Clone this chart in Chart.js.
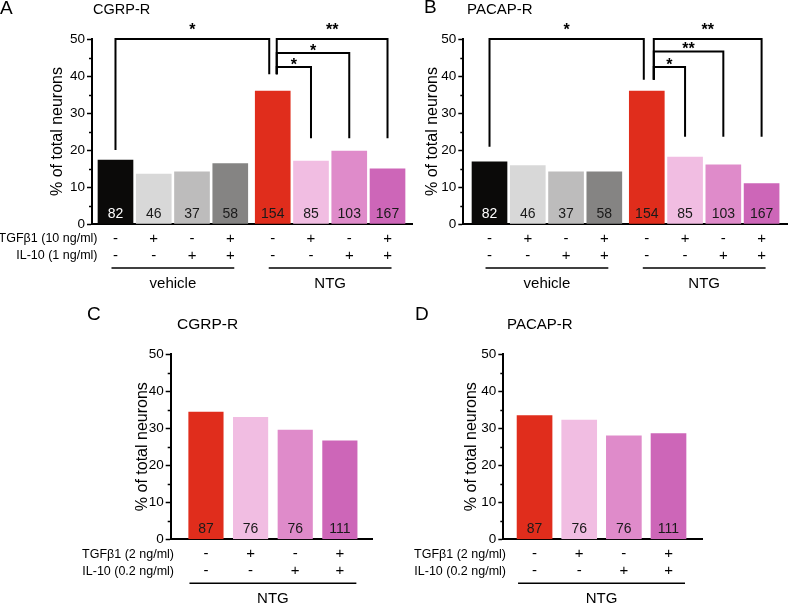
<!DOCTYPE html>
<html>
<head>
<meta charset="utf-8">
<script src="https://cdn.jsdelivr.net/npm/chart.js@4.4.1/dist/chart.umd.min.js"></script>
<style>
    body { margin: 0; background: #fff; }
    canvas { position: absolute; }
</style>
</head>
<body>
<canvas id="chartA"></canvas>
<canvas id="chartB"></canvas>
<canvas id="chartC"></canvas>
<canvas id="chartD"></canvas>
<script>
// ---- data ----
var groupsAB = ["vehicle", "vehicle", "vehicle", "vehicle", "NTG", "NTG", "NTG", "NTG"];
var groupsCD = ["NTG", "NTG", "NTG", "NTG"];

var tgfAB = ["-", "+", "-", "+", "-", "+", "-", "+"];
var il10AB = ["-", "-", "+", "+", "-", "-", "+", "+"];
var tgfCD = ["-", "+", "-", "+"];
var il10CD = ["-", "-", "+", "+"];

var rowLabelsAB = ["TGFβ1 (10 ng/ml)", "IL-10 (1 ng/ml)"];
var rowLabelsCD = ["TGFβ1 (2 ng/ml)", "IL-10 (0.2 ng/ml)"];

var valuesA = [17.3, 13.5, 14.1, 16.3, 35.9, 17.0, 19.7, 14.9];
var valuesB = [16.8, 15.8, 14.1, 14.1, 35.9, 18.1, 16.0, 10.9];
var valuesC = [34.3, 32.9, 29.5, 26.6];
var valuesD = [33.4, 32.2, 27.9, 28.5];

var countsAB = [82, 46, 37, 58, 154, 85, 103, 167];
var countsCD = [87, 76, 76, 111];

var yTicks = [0, 10, 20, 30, 40, 50];

// significance brackets: bar pairs, bracket top, leg ends, marks
var sigPairs = [[0, 4], [4, 7], [4, 6], [4, 5]];
var sigTopA = [50, 50, 46.2, 42.4];
var sigTopB = [50, 50, 46.6, 42.4];
var sigLegsA = [[20, 40.5], [40.5, 23.2], [40.5, 23.2], [40.5, 23.2]];
var sigLegsB = [[20.9, 39], [39, 23.6], [39, 23.6], [39, 23.6]];
var sigMarksA = ["*", "**", "*", "*"];
var sigMarksB = ["*", "**", "**", "*"];

var coloursAB = ["#0b0a09", "#d8d8d8", "#bdbcbc", "#858483", "#e02d1c", "#f1bde2", "#df8bca", "#cd66b8"];
var coloursCD = ["#e02d1c", "#f1bde2", "#df8bca", "#cd66b8"];

var FONT = '"Liberation Sans", Arial, sans-serif';
Chart.defaults.font.family = FONT;
Chart.defaults.color = "#000";

// x position of each bar, with a small extra gap between groups
function barPositions(groups, gap) {
    var seen = [];
    return groups.map(function (g, i) {
        if (seen.indexOf(g) < 0) seen.push(g);
        return i + 1 + (seen.length - 1) * gap;
    });
}

function isDark(hex) {
    var r = parseInt(hex.substr(1, 2), 16), g = parseInt(hex.substr(3, 2), 16), b = parseInt(hex.substr(5, 2), 16);
    return 0.299 * r + 0.587 * g + 0.114 * b < 60;
}

function panelPlugin(p, pos) {
    return {
        id: "panelText",
        afterDraw: function (chart) {
            var ctx = chart.ctx, xs = chart.scales.x, ys = chart.scales.y;
            var area = chart.chartArea;
            var base = ys.getPixelForValue(0);
            ctx.save();
            ctx.fillStyle = "#000";
            ctx.strokeStyle = "#000";
            ctx.textBaseline = "middle";

            // panel letter and title
            ctx.textAlign = "left";
            ctx.font = "19px " + FONT;
            ctx.fillText(p.letter, p.letterAt[0], p.letterAt[1]);
            ctx.font = p.titleSize + "px " + FONT;
            ctx.fillText(p.title, p.titleAt[0], p.titleAt[1]);

            // minor y ticks
            ctx.lineWidth = 1.5;
            for (var v = 5; v < 50; v += 10) {
                var py = Math.round(ys.getPixelForValue(v)) + 0.5;
                ctx.beginPath();
                ctx.moveTo(area.left - 3, py);
                ctx.lineTo(area.left, py);
                ctx.stroke();
            }

            // n per bar
            ctx.textAlign = "center";
            ctx.font = "14px " + FONT;
            p.counts.forEach(function (c, i) {
                ctx.fillStyle = isDark(p.colours[i]) ? "#fff" : "#1a1a1a";
                ctx.fillText(c, xs.getPixelForValue(pos[i]), base - 10);
            });
            ctx.fillStyle = "#000";

            // treatment rows
            ctx.font = "15px " + FONT;
            p.tgf.forEach(function (s, i) {
                ctx.fillText(s, xs.getPixelForValue(pos[i]), base + 15);
                ctx.fillText(p.il10[i], xs.getPixelForValue(pos[i]), base + 32);
            });
            if (p.rowLabels) {
                ctx.textAlign = "right";
                ctx.font = "12.5px " + FONT;
                ctx.fillText(p.rowLabels[0], p.rowLabelRight, base + 15);
                ctx.fillText(p.rowLabels[1], p.rowLabelRight, base + 32);
            }

            // group underlines and names
            ctx.textAlign = "center";
            ctx.font = "15px " + FONT;
            ctx.lineWidth = 1.5;
            var names = [];
            p.groups.forEach(function (g) { if (names.indexOf(g) < 0) names.push(g); });
            names.forEach(function (g) {
                var first = p.groups.indexOf(g), last = p.groups.lastIndexOf(g);
                var x1 = xs.getPixelForValue(pos[first]) - p.lineExtend;
                var x2 = xs.getPixelForValue(pos[last]) + p.lineExtend;
                ctx.beginPath();
                ctx.moveTo(x1, base + 44);
                ctx.lineTo(x2, base + 44);
                ctx.stroke();
                ctx.fillText(g, (x1 + x2) / 2, base + 60);
            });

            // significance brackets
            if (p.sigTop) {
                ctx.lineWidth = 2;
                ctx.font = "bold 16px " + FONT;
                ctx.textBaseline = "alphabetic";
                sigPairs.forEach(function (pr, k) {
                    var x1 = xs.getPixelForValue(pos[pr[0]]) + (pr[0] === 4 ? p.legGap[1] : 0);
                    var x2 = xs.getPixelForValue(pos[pr[1]]) + (pr[1] === 4 ? p.legGap[0] : 0);
                    var yt = ys.getPixelForValue(p.sigTop[k]);
                    ctx.beginPath();
                    ctx.moveTo(x1, ys.getPixelForValue(p.sigLegs[k][0]));
                    ctx.lineTo(x1, yt);
                    ctx.lineTo(x2, yt);
                    ctx.lineTo(x2, ys.getPixelForValue(p.sigLegs[k][1]));
                    ctx.stroke();
                    var cy = yt - (p.sigTop[k] >= 50 ? 13 : 6.5);
                    ctx.fillText(p.sigMarks[k], (x1 + x2) / 2, cy + 9.3);
                });
            }
            ctx.restore();
        }
    };
}

function makePanel(p) {
    var canvas = document.getElementById(p.id);
    canvas.width = p.box[2];
    canvas.height = p.box[3];
    canvas.style.left = p.box[0] + "px";
    canvas.style.top = p.box[1] + "px";

    var pos = barPositions(p.groups, p.gap);

    return new Chart(canvas, {
        type: "bar",
        data: {
            datasets: [
                {
                    data: p.values.map(function (v, i) { return { x: pos[i], y: v }; }),
                    backgroundColor: p.colours,
                    borderWidth: 0,
                    barThickness: p.barWidth,
                },
            ],
        },
        options: {
            responsive: false,
            animation: false,
            layout: {
                padding: {
                    left: p.titlePad,
                    top: p.area[2],
                    right: p.box[2] - p.area[1],
                    bottom: p.box[3] - p.area[3],
                },
            },
            plugins: {
                legend: { display: false },
                tooltip: { enabled: false },
            },
            scales: {
                x: {
                    type: "linear",
                    offset: false,
                    min: p.xRange[0],
                    max: p.xRange[1],
                    grid: { display: false },
                    ticks: { display: false },
                    border: { display: true, color: "#000", width: 2 },
                    afterFit: function (scale) { scale.height = 0; },
                },
                y: {
                    min: yTicks[0],
                    max: yTicks[yTicks.length - 1],
                    afterBuildTicks: function (scale) {
                        scale.ticks = yTicks.map(function (t) { return { value: t }; });
                    },
                    grid: {
                        display: true,
                        drawOnChartArea: false,
                        drawTicks: true,
                        tickLength: 5,
                        tickColor: "#000",
                        tickWidth: 1.5,
                    },
                    border: { display: true, color: "#000", width: 2 },
                    ticks: {
                        padding: 2,
                        color: "#000",
                        font: { size: 13.5 },
                    },
                    title: {
                        display: true,
                        text: "% of total neurons",
                        color: "#000",
                        font: { size: 16 },
                    },
                    afterFit: function (scale) { scale.width = p.area[0] - p.titlePad; },
                },
            },
        },
        plugins: [panelPlugin(p, pos)],
    });
}

makePanel({
    id: "chartA", box: [0, 0, 420, 300], area: [92, 412, 39, 224], titlePad: 44.4,
    xRange: [0.386, 8.75], gap: 0.11, barWidth: 35,
    values: valuesA, counts: countsAB, colours: coloursAB, groups: groupsAB,
    tgf: tgfAB, il10: il10AB, rowLabels: rowLabelsAB, rowLabelRight: 97.5, lineExtend: 4,
    letter: "A", letterAt: [0, 9], title: "CGRP-R", titleAt: [93, 10], titleSize: 14.5,
    sigTop: sigTopA, sigLegs: sigLegsA, sigMarks: sigMarksA, legGap: [-3.5, 4],
});

makePanel({
    id: "chartB", box: [400, 0, 388, 300], area: [63.3, 388, 39, 224], titlePad: 19.4,
    xRange: [0.315, 8.8], gap: 0.11, barWidth: 35,
    values: valuesB, counts: countsAB, colours: coloursAB, groups: groupsAB,
    tgf: tgfAB, il10: il10AB, rowLabels: null, lineExtend: 4,
    letter: "B", letterAt: [24, 8], title: "PACAP-R", titleAt: [67, 10], titleSize: 15,
    sigTop: sigTopB, sigLegs: sigLegsB, sigMarks: sigMarksB, legGap: [-3, 7],
});

makePanel({
    id: "chartC", box: [0, 300, 400, 304], area: [170.7, 372, 54, 239.3], titlePad: 129.4,
    xRange: [0.21, 4.72], gap: 0, barWidth: 34.5,
    values: valuesC, counts: countsCD, colours: coloursCD, groups: groupsCD,
    tgf: tgfCD, il10: il10CD, rowLabels: rowLabelsCD, rowLabelRight: 174, lineExtend: 16.5,
    letter: "C", letterAt: [87, 15], title: "CGRP-R", titleAt: [177, 25], titleSize: 15.5,
    sigTop: null,
});

makePanel({
    id: "chartD", box: [400, 300, 388, 304], area: [103.3, 302, 54, 239.3], titlePad: 58.4,
    xRange: [0.3, 4.75], gap: 0, barWidth: 35,
    values: valuesD, counts: countsCD, colours: coloursCD, groups: groupsCD,
    tgf: tgfCD, il10: il10CD, rowLabels: rowLabelsCD, rowLabelRight: 106, lineExtend: 16.5,
    letter: "D", letterAt: [15, 15], title: "PACAP-R", titleAt: [107, 25], titleSize: 15,
    sigTop: null,
});
</script>
</body>
</html>
